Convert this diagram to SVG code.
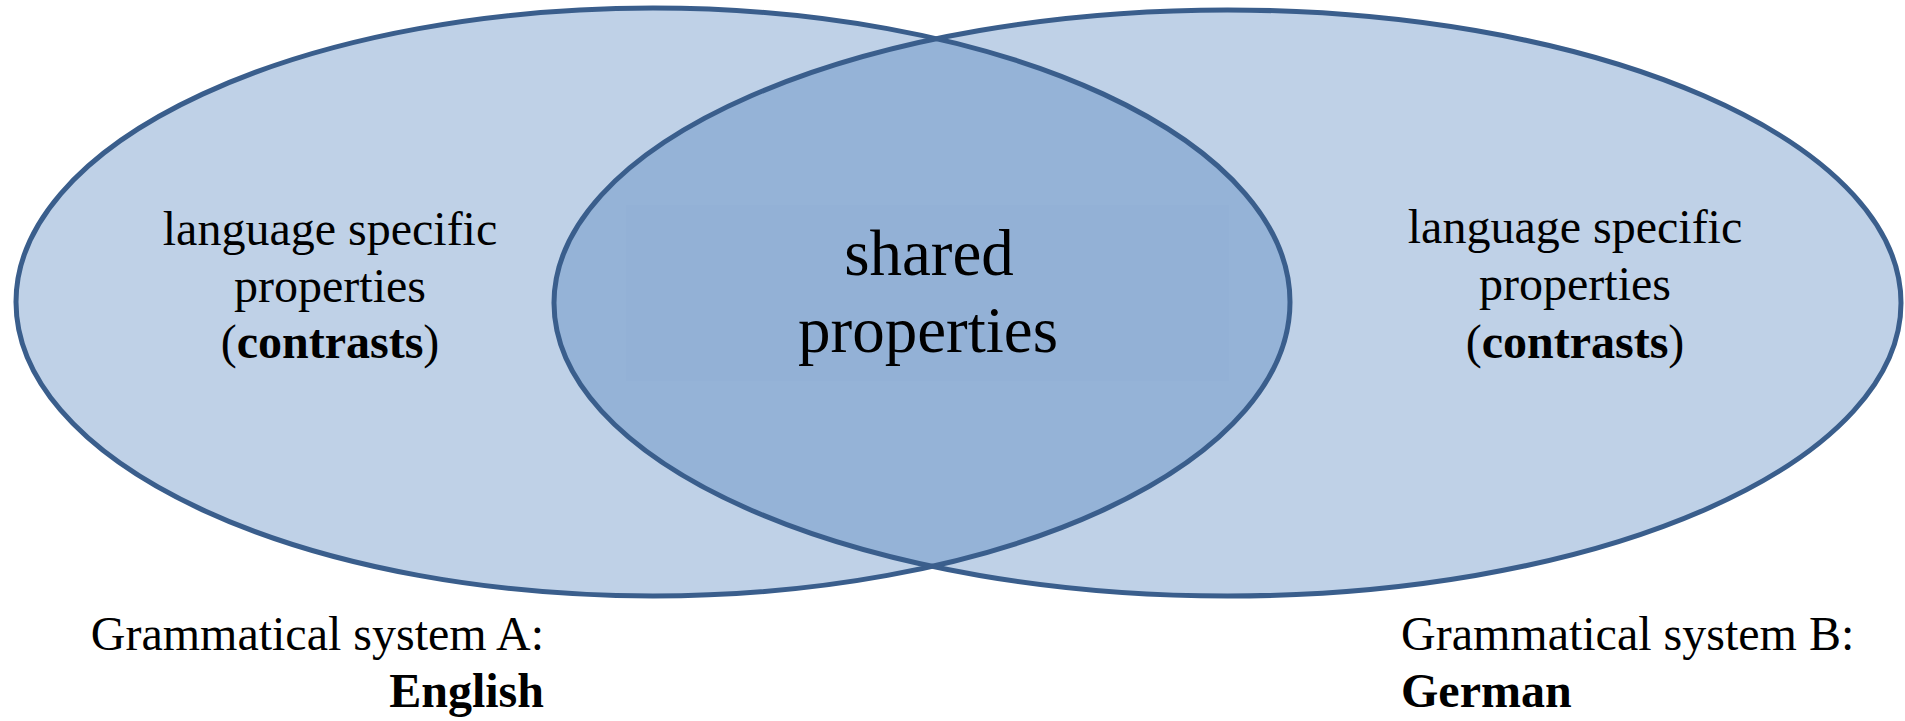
<svg xmlns="http://www.w3.org/2000/svg" width="1905" height="721" viewBox="0 0 1905 721">
  <style>
    .set { fill: #BFD1E7; }
    .edge { fill: none; stroke: #3A5E8C; stroke-width: 5; }
    .lens { fill: #95B3D7; }
    .serif { font-family: "Liberation Serif", serif; }
    .side { font-size: 48px; text-anchor: middle; }
    .mid { font-size: 65px; text-anchor: middle; }
    .cap { font-size: 48px; }
    .b { font-weight: bold; }
  </style>
  <defs>
    <ellipse id="shapeA" cx="653" cy="302" rx="637" ry="294"/>
    <ellipse id="shapeB" cx="1227.5" cy="303" rx="673.5" ry="293"/>
    <clipPath id="clipA">
      <use href="#shapeA"/>
    </clipPath>
  </defs>

  <rect width="1905" height="721" fill="#FFFFFF"/>

  <!-- System A: English -->
  <g id="system-a">
    <use href="#shapeA" class="set"/>
  </g>

  <!-- System B: German -->
  <g id="system-b">
    <use href="#shapeB" class="set"/>
  </g>

  <!-- overlap of both systems -->
  <g id="shared">
    <use href="#shapeB" class="lens" clip-path="url(#clipA)"/>
    <rect x="626" y="205" width="603" height="176" fill="#93B1D6"/>
  </g>

  <!-- outlines -->
  <g id="outlines">
    <use href="#shapeA" class="edge"/>
    <use href="#shapeB" class="edge"/>
  </g>

  <g class="serif" fill="#000000">
    <g id="label-a">
      <text class="side" x="330" y="245">language specific</text>
      <text class="side" x="330" y="302">properties</text>
      <text class="side" x="330" y="358">(<tspan class="b">contrasts</tspan>)</text>
    </g>

    <g id="label-shared">
      <text class="mid" x="929" y="275">shared</text>
      <text class="mid" x="928" y="352">properties</text>
    </g>

    <g id="label-b">
      <text class="side" x="1575" y="243">language specific</text>
      <text class="side" x="1575" y="300">properties</text>
      <text class="side" x="1575" y="358">(<tspan class="b">contrasts</tspan>)</text>
    </g>

    <g id="caption-a">
      <text class="cap" x="544" y="650" text-anchor="end">Grammatical system A:</text>
      <text class="cap b" x="544" y="707" text-anchor="end">English</text>
    </g>

    <g id="caption-b">
      <text class="cap" x="1401" y="650">Grammatical system B:</text>
      <text class="cap b" x="1401" y="707">German</text>
    </g>
  </g>
</svg>
